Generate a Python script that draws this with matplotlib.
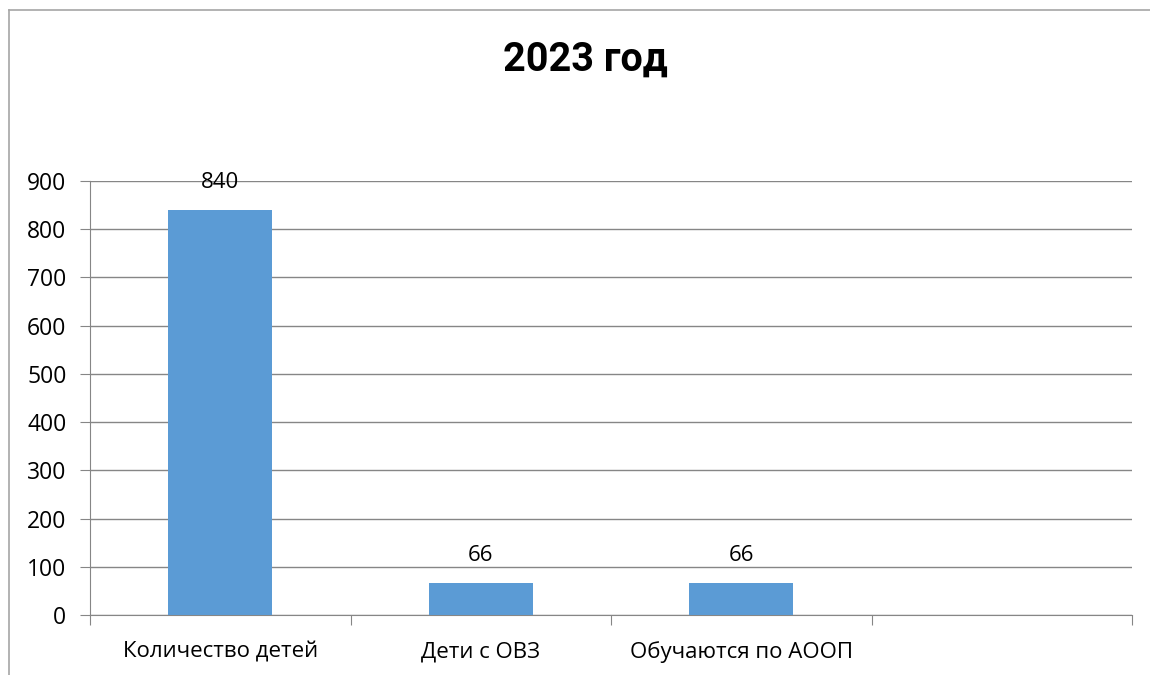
import matplotlib.pyplot as plt
from matplotlib.lines import Line2D
import numpy as np

plt.rcParams['font.family'] = ['Open Sans', 'DejaVu Sans']

title = '2023 год'
categories = ['Количество детей', 'Дети с ОВЗ', 'Обучаются по АООП', '']
values = [840, 66, 66, None]
yticks = [0, 100, 200, 300, 400, 500, 600, 700, 800, 900]

W, H = 1150, 675
fig = plt.figure(figsize=(W / 100, H / 100), dpi=100)
ax = fig.add_axes([90 / W, 1 - 615 / H, (1132 - 90) / W, (615 - 181) / H])

# outer chart frame (only left and top visible)
fig.add_artist(Line2D([8.5 / W, 8.5 / W], [0, 1 - 9.5 / H], color='#a6a6a6', lw=1.2))
fig.add_artist(Line2D([8.5 / W, 1], [1 - 9.5 / H, 1 - 9.5 / H], color='#a6a6a6', lw=1.2))

x = np.arange(len(categories))
shown = [i for i, v in enumerate(values) if v is not None]
bars = ax.bar([x[i] for i in shown], [values[i] for i in shown], width=0.4,
              color='#5b9bd5', zorder=3)
for b in bars:
    ax.text(b.get_x() + b.get_width() / 2, b.get_height() + 57, f'{int(b.get_height())}',
            ha='center', va='center', fontsize=16, color='#000000', zorder=4)

ax.set_xlim(-0.5, len(categories) - 0.5)
ax.set_ylim(0, 900)
ax.set_yticks(yticks)
ax.tick_params(axis='y', length=7, color='#868686', labelsize=16.5, pad=10)
ax.grid(axis='y', color='#868686', lw=1, zorder=0)

ax.set_xticks(np.arange(len(categories) + 1) - 0.5)
ax.set_xticklabels([])
ax.set_xticks(x, minor=True)
ax.set_xticklabels(categories, minor=True)
ax.tick_params(axis='x', which='major', length=7, color='#868686')
ax.tick_params(axis='x', which='minor', length=0, labelsize=16, pad=19)

for s in ['top', 'right']:
    ax.spines[s].set_visible(False)
for s in ['left', 'bottom']:
    ax.spines[s].set_color('#868686')

fig.text(585 / W, 1 - 71 / H, title, ha='center', va='baseline', fontsize=28.5,
         fontweight='bold', family=['Roboto', 'Liberation Sans', 'DejaVu Sans'])

fig.savefig('out.png', dpi=100, facecolor='white')
